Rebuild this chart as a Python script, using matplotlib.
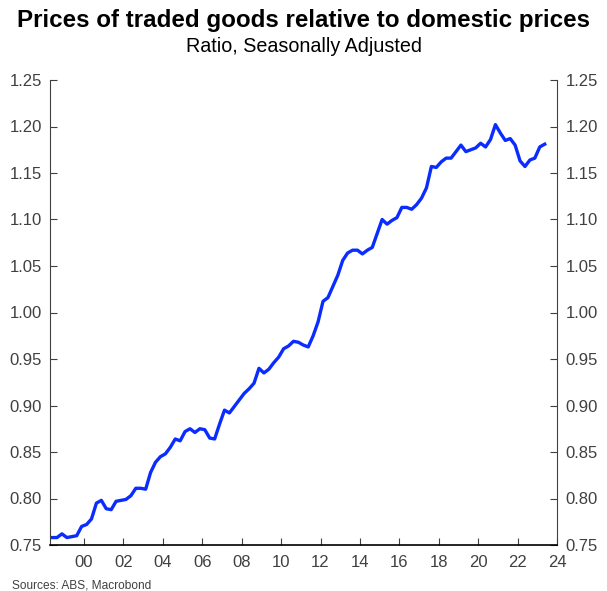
import numpy as np
import matplotlib
matplotlib.use('Agg')
import matplotlib.pyplot as plt
from matplotlib.ticker import FixedLocator

plt.rcParams['font.family'] = ['Liberation Sans', 'DejaVu Sans']

# quarterly data, 1998 Q2 to 2023 Q2
start_year, start_q = 1998, 2
ratio = [
    0.758, 0.758, 0.762,
    0.758, 0.759, 0.760, 0.770,
    0.772, 0.778, 0.795, 0.798,
    0.789, 0.788, 0.797, 0.798,
    0.799, 0.803, 0.811, 0.811,
    0.810, 0.828, 0.839, 0.845,
    0.848, 0.855, 0.864, 0.862,
    0.872, 0.875, 0.871, 0.875,
    0.874, 0.865, 0.864, 0.880,
    0.895, 0.892, 0.899, 0.906,
    0.913, 0.918, 0.924, 0.940,
    0.935, 0.939, 0.946, 0.952,
    0.961, 0.964, 0.969, 0.968,
    0.965, 0.963, 0.975, 0.990,
    1.012, 1.016, 1.028, 1.040,
    1.056, 1.064, 1.067, 1.067,
    1.063, 1.067, 1.070, 1.085,
    1.100, 1.095, 1.099, 1.102,
    1.113, 1.113, 1.111, 1.116,
    1.123, 1.134, 1.157, 1.156,
    1.162, 1.166, 1.166, 1.173,
    1.180, 1.173, 1.175, 1.177,
    1.182, 1.178, 1.186, 1.202,
    1.193, 1.185, 1.187, 1.180,
    1.163, 1.157, 1.164, 1.166,
    1.178, 1.181,
]
dates = [start_year + (start_q - 1 + i) / 4 + 0.125 for i in range(len(ratio))]

x_ticks = list(range(2000, 2025, 2))
x_labels = [str(y)[2:] for y in x_ticks]
y_ticks = [0.75, 0.80, 0.85, 0.90, 0.95, 1.00, 1.05, 1.10, 1.15, 1.20, 1.25]

grey = '#404040'

fig = plt.figure(figsize=(6.07, 5.91), dpi=100)
ax = fig.add_axes([50 / 607, 46 / 591, 507 / 607, 465 / 591])
ax.plot(dates, ratio, color='#0a2cff', lw=2.4, solid_joinstyle='round')

ax.set_xlim(1998.27, 2024.0)
ax.set_ylim(0.75, 1.25)

ax.xaxis.set_major_locator(FixedLocator(x_ticks))
ax.set_xticklabels(x_labels)
ax.set_yticks(y_ticks)
ax.set_yticklabels([f'{v:.2f}' for v in y_ticks])

ax.spines['top'].set_visible(False)
ax.spines['left'].set_color(grey)
ax.spines['right'].set_color(grey)
ax.spines['bottom'].set_color('black')
ax.spines['bottom'].set_linewidth(1.2)

ax.tick_params(axis='x', direction='in', length=5, color=grey, labelsize=12,
               labelcolor=grey, pad=7)
ax.tick_params(axis='y', direction='in', length=5, color=grey, labelsize=12,
               labelcolor=grey, pad=6, left=True, right=True,
               labelleft=True, labelright=True)

fig.text(0.5, 1 - 20 / 591, 'Prices of traded goods relative to domestic prices',
         ha='center', va='center', fontsize=17.4, fontweight='bold')
fig.text(0.5, 1 - 47 / 591, 'Ratio, Seasonally Adjusted',
         ha='center', va='center', fontsize=14.2)
fig.text(12 / 607, 1 - 586 / 591, 'Sources: ABS, Macrobond',
         ha='left', va='center', fontsize=8.6, color=grey)

fig.savefig('out.png', dpi=100)
